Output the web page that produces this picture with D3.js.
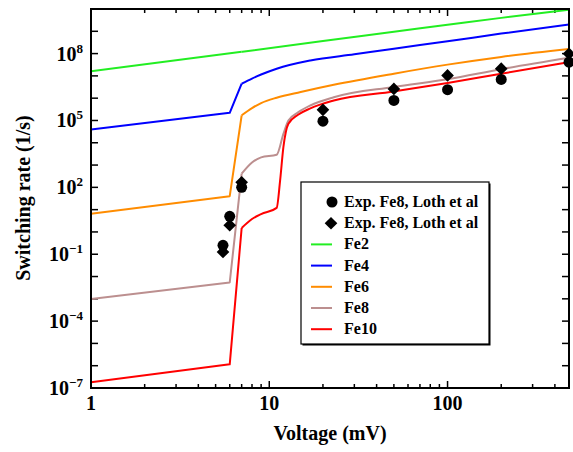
<!DOCTYPE html>
<html>
<head>
<meta charset="utf-8">
<script src="https://cdn.jsdelivr.net/npm/d3@7"></script>
<style>
  body { margin: 0; background: #fff; }
  svg { display: block; font-family: "Liberation Serif", "DejaVu Serif", serif; font-weight: bold; }
</style>
</head>
<body>
<div id="chart"></div>
<script>
// curves: [voltage (mV), switching rate (1/s)]
const fe2 = [[1,1.6e7],[7,1.2e8],[20,3.7e8],[50,9.5e8],[100,1.95e9],[200,4.0e9],[480,9.3e9]]
const fe4 = [[1,3.9e4],[6,2.2e5],[7,4.5e6],[8,7.6e6],[9,1.15e7],[11,2.1e7],[17,4.9e7],[30,9.3e7],[50,1.66e8],[100,3.55e8],[200,7.9e8],[480,2.0e9]]
const fe6 = [[1,6.6],[6,40],[7,1.7e5],[8,3.6e5],[9,6.0e5],[11,1.05e6],[15,1.9e6],[23,4.0e6],[50,1.26e7],[100,3.2e7],[200,7.1e7],[480,1.6e8]]
const fe8 = [[1,9.8e-4],[6,5.4e-3],[7,4.1e2],[8,1.3e3],[9,2.2e3],[11,2.9e3],[12,2.5e4],[12.8,1.0e5],[14.5,2.3e5],[17,4.7e5],[23,1.1e6],[50,3.2e6],[100,7.1e6],[200,2.0e7],[480,6.5e7]]
const fe10 = [[1,1.8e-7],[6,1.15e-6],[7,1.5],[8,3.8],[9,6.3],[11,12],[11.5,200],[12,6.3e3],[12.8,7.1e4],[14.5,1.8e5],[17,3.5e5],[23,7.9e5],[50,2.0e6],[100,4.8e6],[200,1.26e7],[480,4.1e7]]

// experiment points
const expCircles = [[5.5,0.25],[6.0,5.0],[7.0,100],[20,9.3e4],[50,7.9e5],[100,2.4e6],[200,6.9e6],[480,4.1e7]]
const expDiamonds = [[5.5,0.126],[6.0,2.0],[7.0,170],[20,3.0e5],[50,2.6e6],[100,1.05e7],[200,2.1e7],[480,9.8e7]]

const seriesNames = ["Fe2","Fe4","Fe6","Fe8","Fe10"]
const seriesColors = ["#22ee22","#0000ff","#ff8c00","#bc8f8f","#ff0000"]
const seriesData = [fe2,fe4,fe6,fe8,fe10]
const expLabel = "Exp. Fe8, Loth et al"

const xTickLabels = [1,10,100]
const yTickExps = [8,5,2,-1,-4,-7]

const W = 573, H = 452
const m = {left:91, top:9, right:4, bottom:64}
const iw = W - m.left - m.right, ih = H - m.top - m.bottom

const svg = d3.select("#chart").append("svg").attr("width",W).attr("height",H)
const g = svg.append("g").attr("transform",`translate(${m.left},${m.top})`)

const x = d3.scaleLog().domain([1,480]).range([0,iw])
const y = d3.scaleLog().domain([1e-7,1e10]).range([ih,0])

g.append("clipPath").attr("id","clip").append("rect").attr("width",iw).attr("height",ih)

// ticks (inward, all four sides)
const xMinor = x.ticks().filter(v => v <= 480)
const yDec = d3.range(-7,11).map(e => Math.pow(10,e))
const tk = g.append("g").attr("stroke","#000").attr("stroke-width",1.5)
xMinor.forEach(v => {
  const major = xTickLabels.includes(v)
  const len = major ? 7 : 4
  tk.append("line").attr("x1",x(v)).attr("x2",x(v)).attr("y1",ih).attr("y2",ih-len)
  tk.append("line").attr("x1",x(v)).attr("x2",x(v)).attr("y1",0).attr("y2",len)
})
yDec.forEach(v => {
  tk.append("line").attr("x1",0).attr("x2",7).attr("y1",y(v)).attr("y2",y(v))
  tk.append("line").attr("x1",iw).attr("x2",iw-7).attr("y1",y(v)).attr("y2",y(v))
})

// tick labels
g.selectAll(".xl").data(xTickLabels).join("text")
  .attr("x",d => x(d)).attr("y",ih+22).attr("text-anchor","middle")
  .attr("font-size",20).text(d => d)

const yl = g.selectAll(".yl").data(yTickExps).join("text")
  .attr("x",-8).attr("y",d => y(Math.pow(10,d))+7).attr("text-anchor","end")
  .attr("font-size",20)
yl.append("tspan").text("10")
yl.append("tspan").attr("dy",-8).attr("font-size",13).text(d => d < 0 ? "\u2212" + (-d) : d)

// curves: straight up to the jump, smooth after it
const lineLin = d3.line().x(d => x(d[0])).y(d => y(d[1]))
const lineSmooth = d3.line().x(d => x(d[0])).y(d => y(d[1])).curve(d3.curveMonotoneX)
const lines = g.append("g").attr("clip-path","url(#clip)")
seriesData.forEach((s,i) => {
  const k = s.findIndex(d => d[0] >= 7)
  const st = {fill:"none", stroke:seriesColors[i], "stroke-width":2, "stroke-linejoin":"round"}
  const a = lines.append("path").datum(s.slice(0,k+1)).attr("d",lineLin)
  const b = lines.append("path").datum(s.slice(k)).attr("d",lineSmooth)
  Object.entries(st).forEach(([kk,v]) => { a.attr(kk,v); b.attr(kk,v) })
})

// experimental markers
g.selectAll(".dia").data(expDiamonds).join("path")
  .attr("d",d3.symbol().type(d3.symbolSquare).size(80))
  .attr("transform",d => `translate(${x(d[0])},${y(d[1])}) rotate(45)`)
  .attr("fill","#000")
g.selectAll(".cir").data(expCircles).join("circle")
  .attr("cx",d => x(d[0])).attr("cy",d => y(d[1])).attr("r",5.5).attr("fill","#000")

// frame
g.append("rect").attr("width",iw).attr("height",ih).attr("fill","none")
  .attr("stroke","#000").attr("stroke-width",2)

// axis titles
svg.append("text").attr("x",m.left+iw/2).attr("y",440).attr("text-anchor","middle")
  .attr("font-size",20).text("Voltage (mV)")
svg.append("text").attr("transform","translate(30,198) rotate(-90)").attr("text-anchor","middle")
  .attr("font-size",20).text("Switching rate (1/s)")

// legend
const lg = svg.append("g").attr("transform","translate(301,182)")
lg.append("rect").attr("x",1.5).attr("y",1.5).attr("width",188).attr("height",162).attr("fill","#000")
lg.append("rect").attr("width",188).attr("height",162).attr("fill","#fff").attr("stroke","#000").attr("stroke-width",1.2)
const rowY = i => 20 + i*21.2
lg.append("circle").attr("cx",31).attr("cy",rowY(0)).attr("r",5.5).attr("fill","#000")
lg.append("path").attr("d",d3.symbol().type(d3.symbolSquare).size(80))
  .attr("transform",`translate(30,${rowY(1)}) rotate(45)`).attr("fill","#000")
;[expLabel,expLabel].forEach((t,i) => {
  lg.append("text").attr("x",43).attr("y",rowY(i)+5).attr("font-size",16).text(t)
})
seriesNames.forEach((n,i) => {
  const yy = rowY(i+2)
  lg.append("line").attr("x1",10).attr("x2",31).attr("y1",yy).attr("y2",yy)
    .attr("stroke",seriesColors[i]).attr("stroke-width",2)
  lg.append("text").attr("x",43).attr("y",yy+5).attr("font-size",16).text(n)
})
</script>
</body>
</html>
